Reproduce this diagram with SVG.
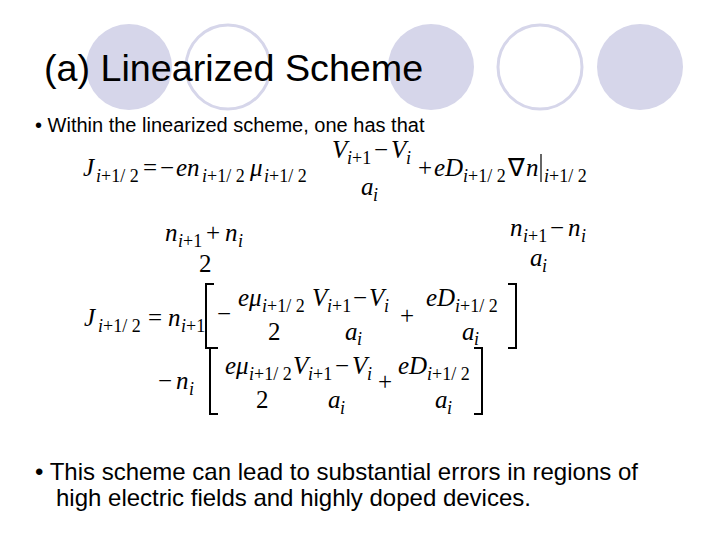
<svg xmlns="http://www.w3.org/2000/svg" width="720" height="540" viewBox="0 0 720 540">
<style>
.f{fill:#d6d6ea}
.o{fill:none;stroke:#d6d6ea;stroke-width:3}
.t{font-family:"Liberation Sans",Arial,sans-serif;fill:#000}
.m{font-family:"Liberation Serif","Times New Roman",serif;font-style:italic;font-size:25px}
.r{font-family:"Liberation Serif","Times New Roman",serif;font-size:25px}
.s{font-family:"Liberation Serif","Times New Roman",serif;font-size:18px}
.i{font-style:italic}
.b{stroke:#000;stroke-width:2;fill:none}
.v{stroke:#000;stroke-width:1.2;fill:none}
</style>
<rect width="720" height="540" fill="#fff"/>
<g id="circles">
<circle class="f" cx="129" cy="67" r="43"/>
<circle class="o" cx="228" cy="67" r="42"/>
<circle class="f" cx="431" cy="67" r="43"/>
<circle class="o" cx="540" cy="67" r="42"/>
<circle class="f" cx="640" cy="67" r="43"/>
</g>
<g id="text">
<text class="t" x="44" y="81" font-size="37.7">(a) Linearized Scheme</text>
<text class="t" x="35" y="132" font-size="20">• Within the linearized scheme, one has that</text>
<text class="t" x="35" y="480" font-size="24">• This scheme can lead to substantial errors in regions of</text>
<text class="t" x="56" y="506" font-size="24">high electric fields and highly doped devices.</text>
</g>
<g id="eq1">
<text class="m" x="83" y="176">J</text><text class="s" x="96" y="182"><tspan class="i">i</tspan>+1/ 2</text>
<text class="r" x="143" y="176">=</text>
<text class="r" x="160" y="176">−</text><text class="m" x="176" y="176">en</text><text class="s" x="202" y="182"><tspan class="i">i</tspan>+1/ 2</text>
<text class="m" x="250" y="176">μ</text><text class="s" x="264" y="182"><tspan class="i">i</tspan>+1/ 2</text>
<text class="m" x="332" y="158">V</text><text class="s" x="347" y="164"><tspan class="i">i</tspan>+1</text>
<text class="r" x="374" y="158">−</text><text class="m" x="391" y="158">V</text><text class="s i" x="406" y="164">i</text>
<text class="m" x="361" y="195">a</text><text class="s i" x="373" y="201">i</text>
<text class="r" x="418" y="176">+</text><text class="m" x="434" y="176">eD</text><text class="s" x="463" y="182"><tspan class="i">i</tspan>+1/ 2</text>
<text class="r" x="508" y="176">∇</text><text class="m" x="526" y="176">n</text>
<line class="v" x1="541" y1="154" x2="541" y2="182"/>
<text class="s" x="544" y="182"><tspan class="i">i</tspan>+1/ 2</text>
</g>
<g id="eq2">
<text class="m" x="165" y="241">n</text><text class="s" x="178" y="247"><tspan class="i">i</tspan>+1</text>
<text class="r" x="206" y="241">+</text><text class="m" x="225" y="241">n</text><text class="s i" x="238" y="247">i</text>
<text class="r" x="199" y="272">2</text>
<text class="m" x="510" y="236">n</text><text class="s" x="523" y="242"><tspan class="i">i</tspan>+1</text>
<text class="r" x="550" y="236">−</text><text class="m" x="568" y="236">n</text><text class="s i" x="581" y="242">i</text>
<text class="m" x="530" y="266">a</text><text class="s i" x="542" y="272">i</text>
</g>
<g id="eq3">
<text class="m" x="84" y="326">J</text><text class="s" x="98" y="332"><tspan class="i">i</tspan>+1/ 2</text>
<text class="r" x="148" y="326">=</text>
<text class="m" x="168" y="326">n</text><text class="s" x="181" y="332"><tspan class="i">i</tspan>+1</text>
<path class="b" d="M214 284H206V348H214"/>
<text class="r" x="217" y="322">−</text>
<text class="m" x="238" y="306">eμ</text><text class="s" x="262" y="312"><tspan class="i">i</tspan>+1/ 2</text>
<text class="r" x="268" y="340">2</text>
<text class="m" x="312" y="306">V</text><text class="s" x="327" y="312"><tspan class="i">i</tspan>+1</text>
<text class="r" x="353" y="306">−</text><text class="m" x="369" y="306">V</text><text class="s i" x="384" y="312">i</text>
<text class="m" x="345" y="340">a</text><text class="s i" x="357" y="345">i</text>
<text class="r" x="400" y="324">+</text>
<text class="m" x="426" y="306">eD</text><text class="s" x="455" y="312"><tspan class="i">i</tspan>+1/ 2</text>
<text class="m" x="462" y="340">a</text><text class="s i" x="474" y="345">i</text>
<path class="b" d="M508 284H516V348H508"/>
</g>
<g id="eq4">
<text class="r" x="158" y="389">−</text><text class="m" x="176" y="389">n</text><text class="s i" x="189" y="395">i</text>
<path class="b" d="M218 348H210V414H218"/>
<text class="m" x="225" y="374">eμ</text><text class="s" x="249" y="380"><tspan class="i">i</tspan>+1/ 2</text>
<text class="r" x="256" y="408">2</text>
<text class="m" x="293" y="374">V</text><text class="s" x="308" y="380"><tspan class="i">i</tspan>+1</text>
<text class="r" x="335" y="374">−</text><text class="m" x="352" y="374">V</text><text class="s i" x="367" y="380">i</text>
<text class="m" x="328" y="408">a</text><text class="s i" x="340" y="414">i</text>
<text class="r" x="378" y="390">+</text>
<text class="m" x="398" y="374">eD</text><text class="s" x="427" y="380"><tspan class="i">i</tspan>+1/ 2</text>
<text class="m" x="435" y="408">a</text><text class="s i" x="447" y="414">i</text>
<path class="b" d="M474 348H482V414H474"/>
</g>
</svg>
